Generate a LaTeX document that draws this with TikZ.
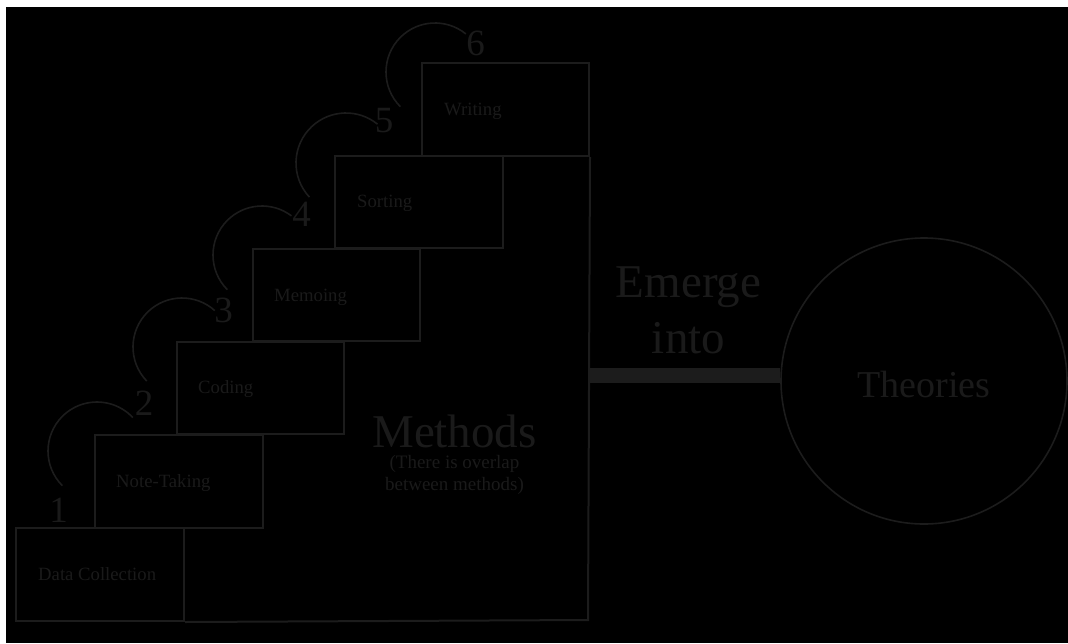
\documentclass[tikz,border=0pt]{standalone}
\usepackage{fontspec}
\setmainfont{Liberation Serif}
\definecolor{inkline}{RGB}{28,28,28}
\definecolor{inktext}{RGB}{26,26,26}
\begin{document}
\begin{tikzpicture}[x=1pt,y=-1pt,
  stepbox/.style={draw=inkline,line width=2pt,rectangle,anchor=north west,inner sep=0pt},
  steplabel/.style={text=inktext,anchor=base west,inner sep=0pt,font=\fontsize{18.7}{22}\selectfont},
  stepnum/.style={text=inktext,anchor=base,inner sep=0pt,font=\fontsize{37}{40}\selectfont},
  looparc/.style={draw=inkline,line width=1.6pt},
  bigtext/.style={text=inktext,inner sep=0pt,align=center}]
% page and backdrop
\useasboundingbox (0,0) rectangle (1068,643);
\fill[white] (0,0) rectangle (1068,643);
\fill[black] (6,7) rectangle (1068,643);

% the staircase of method boxes
\node[stepbox,minimum width=168pt,minimum height=93pt] (dc)   at (15,527) {};
\node[stepbox,minimum width=168pt,minimum height=93pt] (nt)   at (94,434) {};
\node[stepbox,minimum width=167pt,minimum height=92pt] (cod)  at (176,341) {};
\node[stepbox,minimum width=167pt,minimum height=92pt] (mem)  at (252,248) {};
\node[stepbox,minimum width=168pt,minimum height=92pt] (sort) at (334,155) {};
\node[stepbox,minimum width=167pt,minimum height=93pt] (wri)  at (421,62) {};

\node[steplabel] (ldc)   at (38,580)  {Data Collection};
\node[steplabel] (lnt)   at (116,487) {Note-Taking};
\node[steplabel] (lcod)  at (198,393) {Coding};
\node[steplabel] (lmem)  at (274,301) {Memoing};
\node[steplabel] (lsort) at (357,207) {Sorting};
\node[steplabel] (lwri)  at (444,115) {Writing};

% outline of the methods block
\coordinate (mcorner) at (588,620);
\draw[draw=inkline,line width=2pt] (dc.south east) -- (mcorner) -- (wri.south east);

% step numbers
\node[stepnum] (n1) at (58.5,522) {1};
\node[stepnum] (n2) at (144,415)  {2};
\node[stepnum] (n3) at (223.5,322) {3};
\node[stepnum] (n4) at (301.5,226) {4};
\node[stepnum] (n5) at (384,132)  {5};
\node[stepnum] (n6) at (475.5,55) {6};

% arcs linking consecutive steps
\coordinate (a1) at (97,451);
\coordinate (a2) at (182,347);
\coordinate (a3) at (262,255);
\coordinate (a4) at (346,163);
\coordinate (a5) at (435,72);
\draw[looparc] ([shift={(135:49)}]a1) arc[start angle=135,end angle=317,radius=49];
\draw[looparc] ([shift={(136:49)}]a2) arc[start angle=136,end angle=312,radius=49];
\draw[looparc] ([shift={(135:49)}]a3) arc[start angle=135,end angle=307,radius=49];
\draw[looparc] ([shift={(137:50)}]a4) arc[start angle=137,end angle=309,radius=50];
\draw[looparc] ([shift={(135:49)}]a5) arc[start angle=135,end angle=309,radius=49];

% block title
\node[bigtext,anchor=base,font=\fontsize{47}{50}\selectfont] (meth) at (454.5,447) {Methods};
\node[bigtext,anchor=north,font=\fontsize{19}{22}\selectfont] (methnote) at (454.5,455) {(There is overlap\\between methods)};

% theories circle and link
\node[draw=inkline,line width=1.6pt,circle,minimum size=286pt,inner sep=0pt] (theo) at (924,381) {};
\node[bigtext,anchor=base,font=\fontsize{38}{40}\selectfont] (ltheo) at (924,397) {Theories};
\coordinate (bs) at (588,375.5);
\draw[draw=inkline,line width=15pt] (bs) -- (bs -| theo.west);
\node[bigtext,anchor=north,font=\fontsize{47}{56}\selectfont] (emerge) at (688.5,267) {Emerge\\into};
\end{tikzpicture}
\end{document}
